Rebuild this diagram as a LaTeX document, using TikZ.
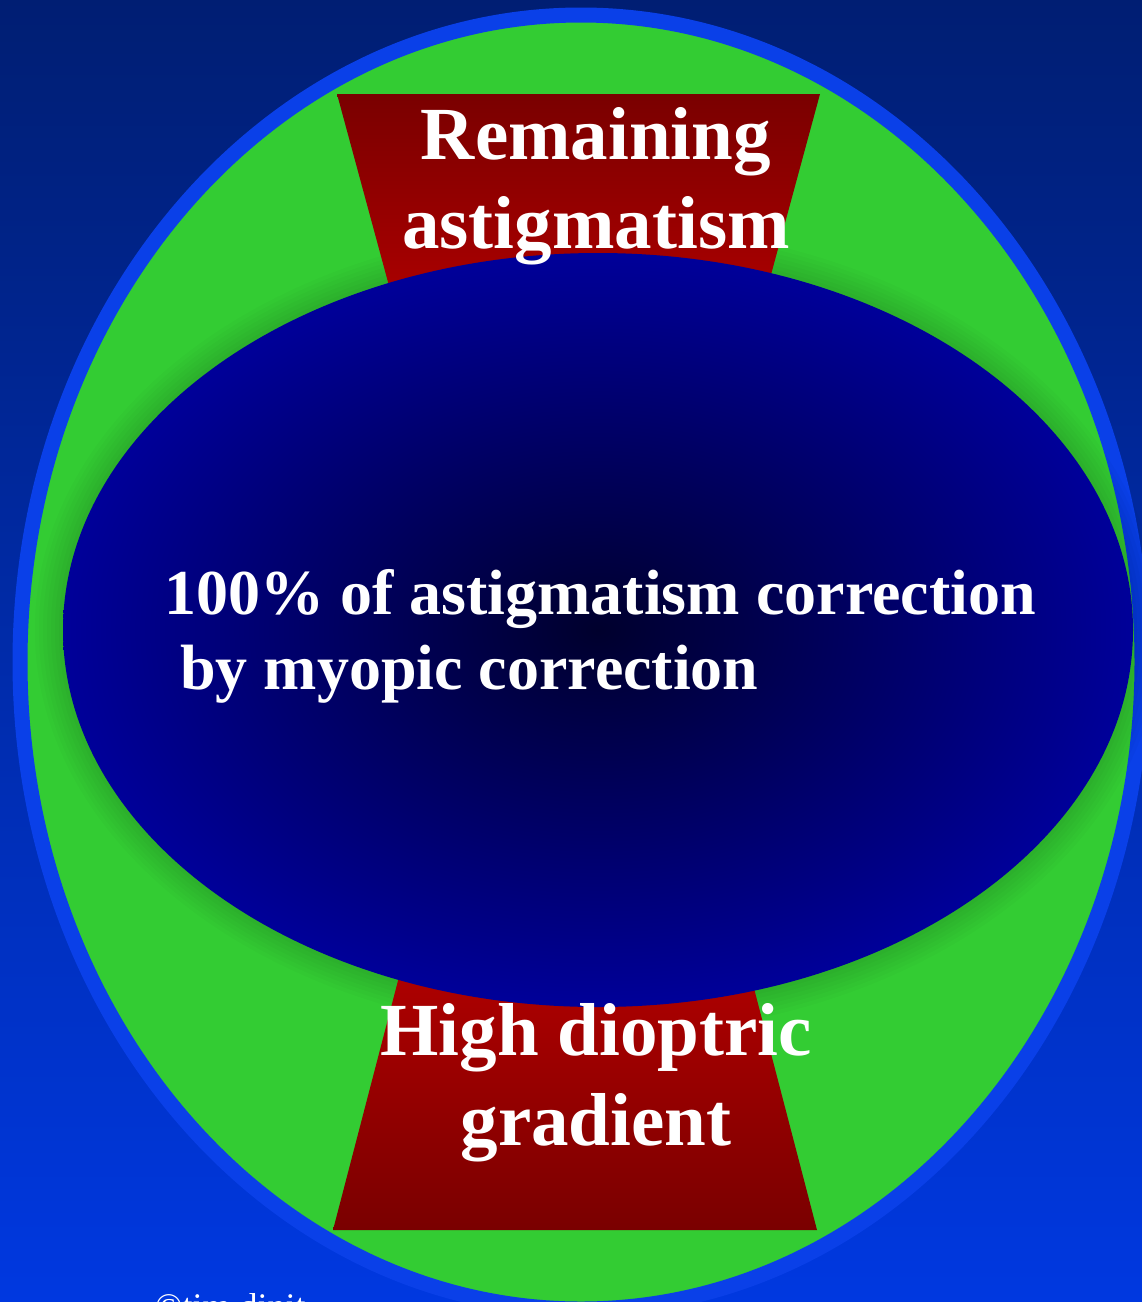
\documentclass[tikz,border=0pt]{standalone}
\usepackage{fontspec}
\setmainfont{Liberation Serif}
\definecolor{bgtop}{RGB}{0,30,115}
\definecolor{bgbottom}{RGB}{0,56,224}
\definecolor{ringblue}{RGB}{10,64,232}
\definecolor{lensgreen}{RGB}{51,204,51}
\definecolor{lensdark}{RGB}{0,0,45}
\definecolor{lensblue}{RGB}{0,0,153}
\definecolor{redtop}{RGB}{122,0,0}
\definecolor{redlow}{RGB}{178,0,0}
\tikzset{
  ring/.style   = {draw=ringblue, line width=15pt, fill=lensgreen},
  centre/.style = {inner color=lensdark, outer color=lensblue},
  uppart/.style = {top color=redtop, bottom color=redlow},
  lowpart/.style = {top color=redlow, bottom color=redtop},
  bigtext/.style = {text=white, inner sep=0pt, align=center, font=\bfseries\fontsize{75}{89}\selectfont},
  midtext/.style = {text=white, inner sep=0pt, align=left, font=\bfseries\fontsize{64}{75}\selectfont},
}

\begin{document}
\begin{tikzpicture}[x=1pt, y=-1pt]
      \useasboundingbox (0,0) rectangle (1142,1302);
      % background
      \shade[top color=bgtop, bottom color=bgbottom] (0,0) rectangle (1142,1302);

      % outer lens
      \draw[ring] (581,662) ellipse [x radius=561pt, y radius=647pt];

      % soft shadow round the inner zone
      \foreach \r in {28,24,...,4}
        \fill[black, opacity=.018] (598,630) ellipse [x radius=535pt+\r pt, y radius=377pt+\r pt];

      % red zones
      \shade[uppart] (337,94) -- (820,94) -- (756,330) -- (401,330) -- cycle;
      \shade[lowpart] (406,950) -- (744,950) -- (817,1230) -- (333,1230) -- cycle;

      % inner zone
      \shade[centre] (598,630) ellipse [x radius=535pt, y radius=377pt];

      \node[bigtext] (remaining) at (596,186) {Remaining\\astigmatism};
      \node[midtext] (full) at (600,636) {100\% of astigmatism correction\\\hspace*{.25em}by myopic correction};
      \node[bigtext, font=\bfseries\fontsize{75}{90}\selectfont] (gradient) at (596,1083) {High dioptric\\gradient};

      \node[text=white, inner sep=0pt, anchor=base west, font=\fontsize{36}{40}\selectfont] (copy) at (155,1318) {©tim dinit};
\end{tikzpicture}
\end{document}
